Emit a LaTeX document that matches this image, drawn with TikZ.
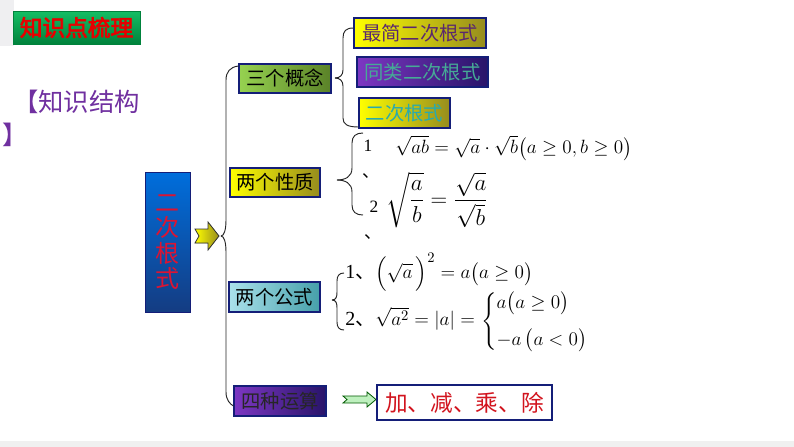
\documentclass[tikz,border=0pt]{standalone}
\usepackage{amsmath}
\usepackage{fontspec}
\setmainfont{Liberation Serif}
\newfontfamily\cjk{Noto Sans CJK SC}
\newfontfamily\cjkb{Noto Sans CJK SC}[FakeBold=3]
\newcommand{\dun}{{\cjk 、}}
\definecolor{ttlgreenA}{RGB}{20,190,100}
\definecolor{ttlgreenB}{RGB}{0,130,60}
\definecolor{ttlred}{RGB}{230,0,0}
\definecolor{kpurple}{RGB}{112,48,160}
\definecolor{navy}{RGB}{20,30,120}
\definecolor{cblueA}{RGB}{0,110,220}
\definecolor{cblueB}{RGB}{20,60,130}
\definecolor{cred}{RGB}{220,20,50}
\definecolor{yelA}{RGB}{255,255,0}
\definecolor{yelB}{RGB}{150,140,30}
\definecolor{grnA}{RGB}{150,210,80}
\definecolor{grnB}{RGB}{90,130,40}
\definecolor{purA}{RGB}{125,55,195}
\definecolor{purB}{RGB}{40,20,105}
\definecolor{cyaA}{RGB}{170,225,235}
\definecolor{cyaB}{RGB}{70,160,170}
\definecolor{txtpur}{RGB}{90,40,110}
\definecolor{txtteal}{RGB}{70,170,150}
\definecolor{txtcyan}{RGB}{40,170,175}
\definecolor{resred}{RGB}{210,20,30}
\definecolor{arrgreen}{RGB}{190,240,190}
\tikzset{
  branch/.style={draw=navy, line width=0.8pt, inner sep=0pt, minimum height=21.75pt,
    font=\cjk\fontsize{14.5}{16}\selectfont},
  leafbox/.style={draw=navy, line width=0.8pt, inner sep=0pt, minimum height=22.5pt,
    font=\cjk\fontsize{14.5}{16}\selectfont},
  mathtxt/.style={inner sep=0pt, font=\fontsize{15}{18}\selectfont},
  numtxt/.style={inner sep=0pt, font=\fontsize{13}{15}\selectfont},
  brace/.style={draw=black!85, line width=0.7pt},
}
\begin{document}
\begin{tikzpicture}[x=0.75pt,y=-0.75pt]
\useasboundingbox (0,0) rectangle (794,447);
\fill[white] (0,0) rectangle (794,447);
\fill[blue!6!gray!12] (0,0) rectangle (14,46);
\fill[gray!12] (0,441) rectangle (794,447);

% title
\node[draw=ttlgreenB, top color=ttlgreenA, bottom color=ttlgreenB, minimum width=95.25pt,
  minimum height=24.75pt, inner sep=0pt, text=ttlred, font=\cjkb\fontsize{17}{18}\selectfont]
  (title) at (76.5,27.5) {知识点梳理};

% knowledge structure label
\node[anchor=west, inner sep=0pt, text=kpurple, font=\cjk\fontsize{19}{20}\selectfont]
  (ks) at (13,102) {【知识结构};
\node[anchor=west, inner sep=0pt, text=kpurple, font=\cjk\fontsize{19}{20}\selectfont]
  (ksb) at (2,135) {】};

% central box
\node[draw=navy, top color=cblueA, bottom color=cblueB, minimum width=33.75pt, minimum height=105pt,
  inner sep=0pt, text=cred, align=center, font=\cjk\fontsize{18}{19}\selectfont]
  (root) at (167.5,242) {二\\次\\根\\式};

% yellow arrow
\filldraw[draw=black!80, line width=0.6pt, left color=yelA, right color=yelB]
  (195,229) -- (208,229) -- (208,222) -- (219,236) -- (208,250) -- (208,243) -- (195,243) -- (199,236) -- cycle;
\coordinate (tip) at (221,236);

% branch boxes
\node[branch, left color=grnA, right color=grnB, minimum width=69pt] (c3) at (285,78.5) {三个概念};
\node[branch, left color=yelA, right color=yelB, minimum width=67.5pt] (p2) at (275,182.5) {两个性质};
\node[leafbox, left color=cyaA, right color=cyaB, minimum width=68.25pt] (f2) at (274.5,297) {两个公式};
\node[leafbox, left color=purA, right color=purB, minimum width=69pt, text=black!85] (o4) at (280,401) {四种运算};

% main brace
\draw[brace] (tip) .. controls (224,236) and (226,230) .. (226,220) -- (226,80)
  .. controls (226,72) and (230,67) .. (c3.west |- 0,66);
\draw[brace] (tip) .. controls (224,236) and (226,242) .. (226,252) -- (226,392)
  .. controls (226,400) and (230,404) .. (o4.west |- 0,406);

% concept leaves
\node[leafbox, left color=yelA, right color=yelB, minimum width=99pt, text=txtpur] (l1) at (420,33) {最简二次根式};
\node[leafbox, left color=purA, right color=purB, minimum width=98.25pt, text=txtteal] (l2) at (422.5,72) {同类二次根式};
\node[leafbox, left color=yelA, right color=yelB, minimum width=68.25pt, text=txtcyan] (l3) at (404.5,113) {二次根式};

\coordinate (b1) at (335,78);
\draw[brace] (b1) .. controls (340,78) and (343,75) .. (343,70) -- (343,38)
  .. controls (343,31) and (346,28) .. (l1.west |- 0,28);
\draw[brace] (b1) .. controls (340,78) and (343,81) .. (343,86) -- (343,118)
  .. controls (343,124) and (347,127) .. (l3.west |- 0,127);

% properties
\coordinate (b2) at (337,180);
\coordinate (b2t) at (363,133);
\coordinate (b2b) at (363,215);
\draw[brace] (b2) .. controls (345,180) and (352,177) .. (352,168) -- (352,143)
  .. controls (352,136) and (356,133) .. (b2t);
\draw[brace] (b2) .. controls (345,180) and (352,183) .. (352,192) -- (352,205)
  .. controls (352,212) and (356,215) .. (b2b);
\node[numtxt] (n1) at (368,146) {1};
\node[numtxt] (n1d) at (371,176) {\dun};
\node[numtxt] (n2) at (374,207) {2};
\node[numtxt] (n2d) at (373,237) {\dun};
\node[mathtxt, anchor=west] (pr1) at (395,148)
  {$\sqrt{ab}=\sqrt{a}\cdot\sqrt{b}\bigl(a\ge 0,b\ge 0\bigr)$};
\node[inner sep=0pt, font=\fontsize{18}{21}\selectfont, anchor=west] (pr2) at (386,200)
  {$\sqrt{\dfrac{a}{b}}=\dfrac{\sqrt{a}}{\sqrt{b}}$};

% formulas
\coordinate (b3) at (332,300);
\draw[brace] (b3) .. controls (336,300) and (337,297) .. (337,292) -- (337,281)
  .. controls (337,276) and (339,273) .. (344,273);
\draw[brace] (b3) .. controls (336,300) and (337,303) .. (337,308) -- (337,322)
  .. controls (337,327) and (339,330) .. (344,330);
\node[mathtxt, anchor=west] (fm1) at (345,272)
  {1\dun$\Bigl(\sqrt{a}\,\Bigr)^{2}=a\bigl(a\ge 0\bigr)$};
\node[mathtxt, anchor=west] (fm2a) at (345,319)
  {2\dun$\sqrt{a^{2}}=\left|a\right|=$};
\node[mathtxt, anchor=west] (fm2b) at (481,322)
  {$\left\{\begin{array}{@{}l}a\bigl(a\ge 0\bigr)\\[10pt]-a\,\bigl(a<0\bigr)\end{array}\right.$};

% operations
\filldraw[draw=green!35!black, line width=0.6pt, fill=arrgreen]
  (343,396) -- (367,396) -- (367,392) -- (376,399.5) -- (367,407) -- (367,403) -- (343,403) -- (347,399.5) -- cycle;
\node[draw=navy, line width=0.8pt, fill=white, minimum width=131.25pt, minimum height=26.25pt,
  inner sep=0pt, text=resred, font=\cjk\fontsize{17}{18}\selectfont] (res) at (464.5,402.5) {加、减、乘、除};
\end{tikzpicture}
\end{document}
